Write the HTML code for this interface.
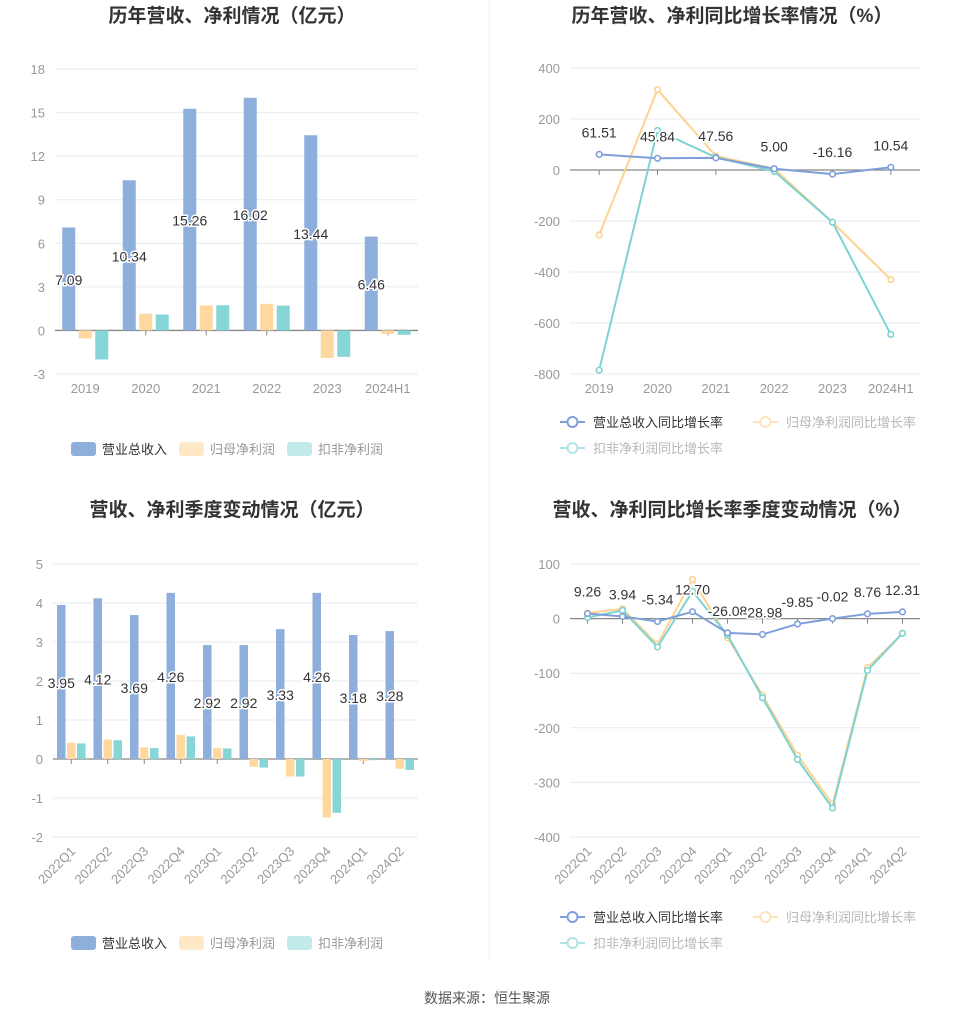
<!DOCTYPE html>
<html><head><meta charset="utf-8">
<style>
body{margin:0;background:#fff;width:975px;height:1020px;overflow:hidden;font-family:"Liberation Sans","Noto Sans CJK SC",sans-serif;}
svg{position:absolute;left:0;top:0}
text{font-family:"Liberation Sans","Noto Sans CJK SC",sans-serif;}
</style></head>
<body>
<svg id="s" width="975" height="1020"></svg>
<script>
const yearCats=["2019","2020","2021","2022","2023","2024H1"];
const yearRev=[7.09,10.34,15.26,16.02,13.44,6.46];
const yearNet=[-0.55,1.15,1.72,1.83,-1.9,-0.25];
const yearDed=[-2.0,1.1,1.73,1.71,-1.82,-0.3];
const yearTicks=[18,15,12,9,6,3,0,-3];
const yearRevG=[61.51,45.84,47.56,5.00,-16.16,10.54];
const yearNetG=[-255,315,55,5,-205,-430];
const yearDedG=[-785,155,50,-5,-205,-645];
const yearGTicks=[400,200,0,-200,-400,-600,-800];
const qCats=["2022Q1","2022Q2","2022Q3","2022Q4","2023Q1","2023Q2","2023Q3","2023Q4","2024Q1","2024Q2"];
const qRev=[3.95,4.12,3.69,4.26,2.92,2.92,3.33,4.26,3.18,3.28];
const qNet=[0.42,0.5,0.3,0.62,0.28,-0.2,-0.45,-1.5,-0.05,-0.25];
const qDed=[0.4,0.48,0.28,0.58,0.27,-0.22,-0.45,-1.38,-0.03,-0.28];
const qTicks=[5,4,3,2,1,0,-1,-2];
const qRevG=[9.26,3.94,-5.34,12.70,-26.08,-28.98,-9.85,-0.02,8.76,12.31];
const qNetG=[10,18,-47,72,-35,-140,-250,-340,-90,-27];
const qDedG=[2,15,-52,50,-30,-145,-258,-347,-95,-27];
const qGTicks=[100,0,-100,-200,-300,-400];

const NS="http://www.w3.org/2000/svg";
const S=document.getElementById('s');
function el(t,a,p,txt){const e=document.createElementNS(NS,t);for(const k in a)e.setAttribute(k,a[k]);if(txt!==undefined)e.textContent=txt;(p||S).appendChild(e);return e;}
const BLUE="#8eaedb",ORANGE="#fed89f",TEAL="#86d6d8";
const LBLUE="#7e9fd9",LORANGE="#fed28f",LTEAL="#7dd3d3";

function title(x,y,t,n){const e=el('text',{x:x,y:y,'text-anchor':'middle','font-size':19,'font-weight':'bold',fill:'#333'},S,t);
}

function axes(g,o){
  const ys=v=>o.y0+(o.vmax-v)/(o.vmax-o.vmin)*(o.y1-o.y0);
  o.ticks.forEach(t=>{
    const l=el('line',{x1:o.left,x2:o.right,y1:ys(t),y2:ys(t),stroke:t===0?'#888':'#e6e9f2','stroke-width':t===0?1.3:1},g);
    
    const tx=el('text',{x:o.left-10,y:ys(t)+5,'text-anchor':'end','font-size':13,fill:'#999'},g,t);
    
  });
  return ys;
}
function xlab(g,o,xc){
  o.cats.forEach((c,i)=>{
    let t;
    if(o.rot)t=el('text',{x:xc(i)+5,y:o.xly,'text-anchor':'end','font-size':13,fill:'#999',transform:`rotate(-45 ${xc(i)+5} ${o.xly})`},g,c);
    else t=el('text',{x:xc(i),y:o.xly,'text-anchor':'middle','font-size':13,fill:'#999'},g,c);
    
  });
}
function barChart(o){
  const g=el('g',{});
  const ys=axes(g,o);
  const step=(o.right-o.left)/o.cats.length;
  const xc=i=>o.left+step*(i+0.5);
  o.cats.forEach((c,i)=>{el('line',{x1:xc(i),x2:xc(i),y1:ys(0),y2:ys(0)+5,stroke:'#888'},g);});
  const series=[[o.rev,BLUE,-1],[o.net,ORANGE,0],[o.ded,TEAL,1]];
  series.forEach(([arr,col,k])=>{
    arr.forEach((v,i)=>{
      const x=xc(i)+k*o.gap-o.bw/2;
      const y=Math.min(ys(v),ys(0)),h=Math.abs(ys(v)-ys(0));
      const r=el('rect',{x:x,y:y,width:o.bw,height:Math.max(h,0.5),fill:col},g);
      
    });
  });
  o.rev.forEach((v,i)=>{
    const t=el('text',{x:xc(i)-o.gap,y:(ys(v)+ys(0))/2+6,'text-anchor':'middle','font-size':14,fill:'#333',stroke:'#fff','stroke-width':3,'paint-order':'stroke'},g,v.toFixed(2));
    
  });
  xlab(g,o,xc);
  const items=[["营业总收入",BLUE,'#333',1],["归母净利润",ORANGE,'#999',0.6],["扣非净利润",TEAL,'#999',0.5]];
  let lx=o.legx;
  items.forEach(([t,c,tc,op])=>{
    const lg=el('g',{},g);
    el('rect',{x:lx,y:o.legy-7,width:25,height:14,rx:3,fill:c,opacity:op},lg);
    el('text',{x:lx+31,y:o.legy+5,'font-size':13,fill:tc},lg,t);
    lx+=108;
  });
}
function lineChart(o){
  const g=el('g',{});
  const ys=axes(g,o);
  const step=(o.right-o.left)/o.cats.length;
  const xc=i=>o.left+step*(i+0.5);
  o.cats.forEach((c,i)=>{el('line',{x1:xc(i),x2:xc(i),y1:ys(0),y2:ys(0)+5,stroke:'#888'},g);});
  [[o.net,LORANGE,'net-growth-line'],[o.ded,LTEAL,'deduct-growth-line'],[o.rev,LBLUE,'revenue-growth-line']].forEach(([arr,col,n])=>{
    const pts=arr.map((v,i)=>xc(i)+','+ys(v)).join(' ');
    const pl=el('polyline',{points:pts,fill:'none',stroke:col,'stroke-width':2},g);
    
    arr.forEach((v,i)=>{const c=el('circle',{cx:xc(i),cy:ys(v),r:2.8,fill:'#fff',stroke:col,'stroke-width':1.6},g);
      });
  });
  o.rev.forEach((v,i)=>{
    const t=el('text',{x:xc(i),y:ys(v)-o.lblOff,'text-anchor':'middle','font-size':14,fill:'#333',stroke:'#fff','stroke-width':3,'paint-order':'stroke'},g,v.toFixed(2));
    
  });
  xlab(g,o,xc);
  const items=[["营业总收入同比增长率",LBLUE,o.legx,o.legy],["归母净利润同比增长率",LORANGE,o.legx+193,o.legy],["扣非净利润同比增长率",LTEAL,o.legx,o.legy+26]];
  items.forEach(([t,c,x,y],k)=>{
    const lg=el('g',{opacity:k?0.6:1},g);
    el('line',{x1:x,x2:x+25,y1:y,y2:y,stroke:c,'stroke-width':2},lg);
    el('circle',{cx:x+12.5,cy:y,r:5,fill:'#fff',stroke:c,'stroke-width':2},lg);
    el('text',{x:x+33,y:y+5,'font-size':13,fill:k?'#888':'#333'},lg,t);
  });
}
title(232,22,"历年营收、净利情况（亿元）","chart1-title");
title(732,22,"历年营收、净利同比增长率情况（%）","chart2-title");
title(232,516,"营收、净利季度变动情况（亿元）","chart3-title");
title(732,516,"营收、净利同比增长率季度变动情况（%）","chart4-title");
const dv=el('line',{x1:489,x2:489,y1:0,y2:960,stroke:'#f0f0f0'});

barChart({name:'annual-bar-chart',cats:yearCats,rev:yearRev,net:yearNet,ded:yearDed,ticks:yearTicks,vmax:18,vmin:-3,y0:69,y1:374,left:55,right:418,bw:13,gap:16.5,xly:393,rot:false,legx:71,legy:449});
lineChart({name:'annual-growth-chart',cats:yearCats,rev:yearRevG,net:yearNetG,ded:yearDedG,ticks:yearGTicks,vmax:400,vmin:-800,y0:68,y1:374,left:570,right:920,xly:393,rot:false,legx:560,legy:422,lblOff:17});
barChart({name:'quarterly-bar-chart',cats:qCats,rev:qRev,net:qNet,ded:qDed,ticks:qTicks,vmax:5,vmin:-2,y0:564,y1:837,left:53,right:418,bw:8.5,gap:10,xly:852,rot:true,legx:71,legy:943});
lineChart({name:'quarterly-growth-chart',cats:qCats,rev:qRevG,net:qNetG,ded:qDedG,ticks:qGTicks,vmax:100,vmin:-400,y0:564,y1:837,left:570,right:920,xly:852,rot:true,legx:560,legy:917,lblOff:17});
const f=el('text',{x:487,y:1003,'text-anchor':'middle','font-size':14,fill:'#555'},S,"数据来源：恒生聚源");

</script>
</body></html>
